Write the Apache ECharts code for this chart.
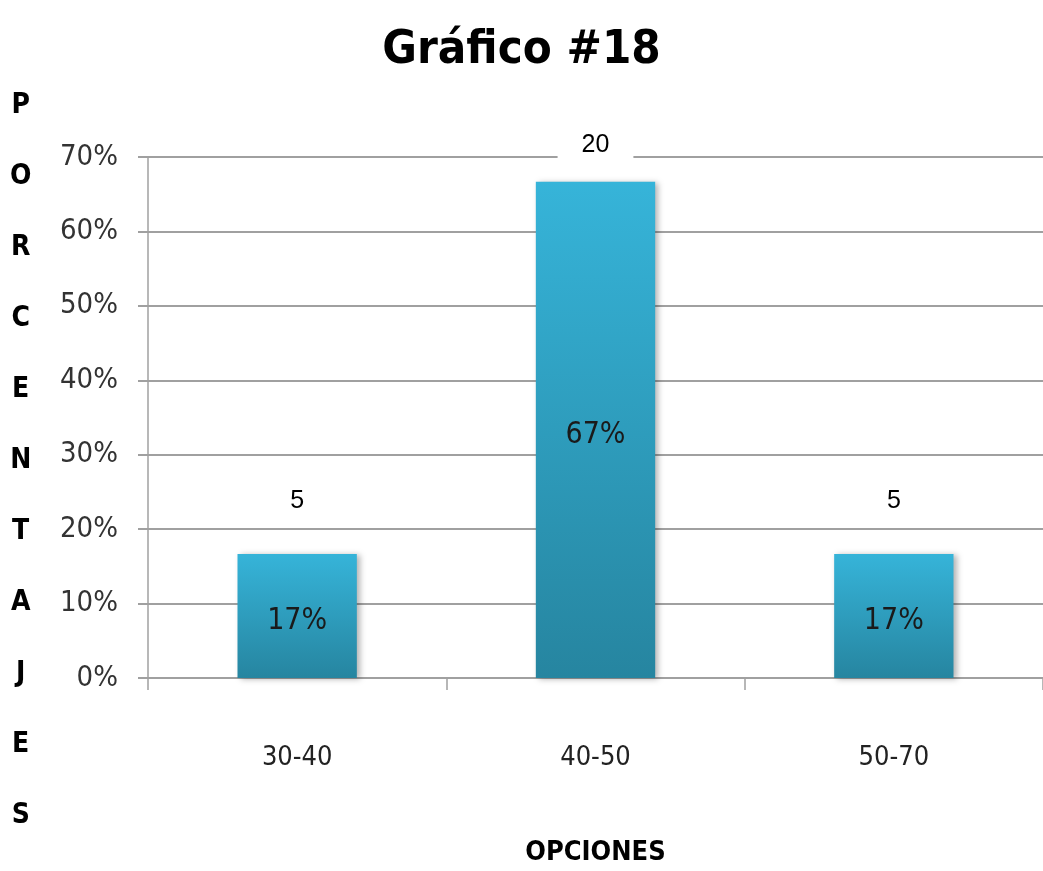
<!DOCTYPE html>
<html><head><meta charset="utf-8">
<script src="https://cdn.jsdelivr.net/npm/echarts@6/dist/echarts.min.js"></script>
<style>html,body{margin:0;padding:0;background:#fff}#c{width:1043px;height:871px}</style>
</head><body><div id="c"></div>
<script>
const categories = ['30-40', '40-50', '50-70'];
const percentages = [16.67, 66.67, 16.67];
const counts = [5, 20, 5];
const percentLabels = ['17%', '67%', '17%'];
const yTicks = [0, 10, 20, 30, 40, 50, 60, 70];
const titleText = 'Gráfico #18';
const yAxisTitle = 'PORCENTAJES';
const xAxisTitle = 'OPCIONES';

const narrow = "'Liberation Sans Narrow','DejaVu Sans Condensed',sans-serif";
const chart = echarts.init(document.getElementById('c'));
const countDist = [36, 20, 36];
chart.setOption({
  animation: false,
  title: {text: titleText, left: 'center', top: 22,
    textStyle: {fontFamily: narrow, fontWeight: 'bold', fontSize: 47, color: '#000'}},
  graphic: [{type: 'text', left: 10, top: 70,
    style: {text: yAxisTitle.split('').join('\n'), font: "bold 28px " + narrow, lineHeight: 71, fill: '#000', textAlign: 'center'}}],
  grid: {left: 148, right: 0, top: 157, height: 521},
  xAxis: {type: 'category', data: categories,
    name: xAxisTitle, nameLocation: 'middle', nameGap: 161,
    nameTextStyle: {fontFamily: narrow, fontWeight: 'bold', fontSize: 27, color: '#000'},
    axisLine: {show: true, lineStyle: {color: '#a0a0a0', width: 2}},
    axisTick: {show: true, length: 12, lineStyle: {color: '#a0a0a0', width: 1.5}},
    axisLabel: {margin: 66, fontFamily: narrow, fontSize: 27, color: '#222'}},
  yAxis: {type: 'value', min: yTicks[0], max: yTicks[yTicks.length - 1], interval: 10,
    axisLine: {show: true, lineStyle: {color: '#a0a0a0', width: 1.5}},
    axisTick: {show: true, length: 10, lineStyle: {color: '#a0a0a0', width: 2}},
    splitLine: {lineStyle: {color: '#a0a0a0', width: 2}},
    axisLabel: {margin: 30, fontFamily: narrow, fontSize: 29, color: '#333', formatter: v => v + '%'}},
  series: [
    {type: 'bar', data: percentages, barWidth: '40%',
      itemStyle: {color: new echarts.graphic.LinearGradient(0, 0, 0, 1, [
        {offset: 0, color: '#36b4d9'}, {offset: 1, color: '#2685a0'}]),
        shadowColor: 'rgba(0,0,0,0.3)', shadowBlur: 6, shadowOffsetX: 3, shadowOffsetY: 1},
      label: {show: true, position: 'inside', offset: [0, 5], fontFamily: narrow, fontSize: 30, color: '#1a1a1a',
        formatter: p => percentLabels[p.dataIndex]}},
    {type: 'bar', barGap: '-100%', barWidth: '40%', z: 5,
      data: percentages.map((v, i) => ({value: v, label: {distance: countDist[i]}})),
      itemStyle: {color: 'rgba(0,0,0,0)'},
      label: {show: true, position: 'top', fontFamily: "'Liberation Sans',sans-serif", fontSize: 25, color: '#000',
        backgroundColor: '#fff', padding: [4, 24], formatter: p => String(counts[p.dataIndex])}}
  ]
});
</script></body></html>
